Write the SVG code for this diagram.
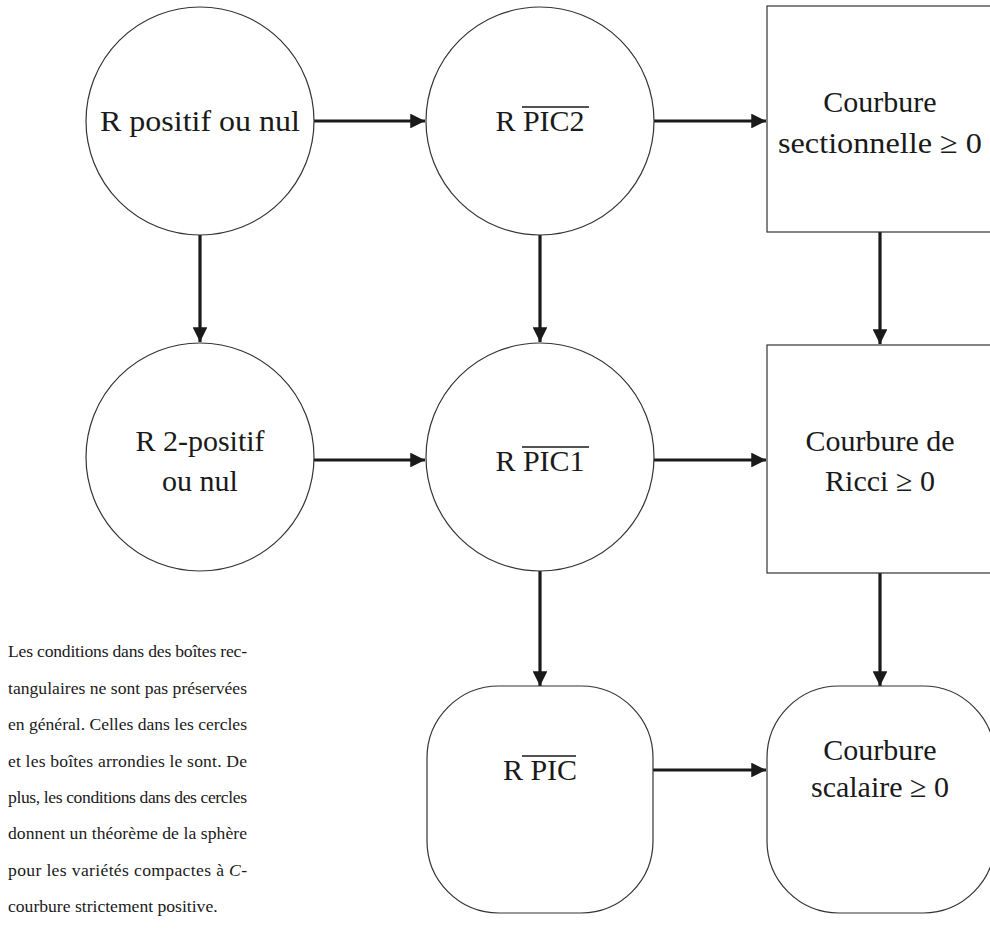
<svg xmlns="http://www.w3.org/2000/svg" width="990" height="940" viewBox="0 0 990 940">
<defs>
<marker id="ah" viewBox="0 0 10 10" refX="10" refY="5" markerWidth="5" markerHeight="4.6" markerUnits="strokeWidth" orient="auto">
<path d="M0,0 L10,5 L0,10 z" fill="#1a1a1a"/>
</marker>
<style>
.nd{fill:#fff;stroke:#333;stroke-width:1.2}
.lb{font-size:30px;fill:#1a1a1a;text-anchor:middle}
.ov{stroke:#1a1a1a;stroke-width:1.3}
.cn{stroke:#1a1a1a;stroke-width:3.2;fill:none;marker-end:url(#ah)}
.pg{font-size:17.6px;fill:#1a1a1a}
</style>
</defs>
<rect width="990" height="940" fill="#fff"/>
<g id="edges">
<line class="cn" x1="314" y1="121" x2="425" y2="121"/>
<line class="cn" x1="654" y1="121" x2="766" y2="121"/>
<line class="cn" x1="200" y1="235" x2="200" y2="342"/>
<line class="cn" x1="540" y1="235" x2="540" y2="342"/>
<line class="cn" x1="880" y1="232" x2="880" y2="344"/>
<line class="cn" x1="314" y1="460" x2="425" y2="460"/>
<line class="cn" x1="654" y1="460" x2="766" y2="460"/>
<line class="cn" x1="540" y1="571" x2="540" y2="686"/>
<line class="cn" x1="880" y1="573" x2="880" y2="686"/>
<line class="cn" x1="653" y1="770" x2="766" y2="770"/>
</g>
<g font-family="'Liberation Serif', 'DejaVu Serif', serif">
<g id="n1">
<circle class="nd" cx="200" cy="121" r="114"/>
<text class="lb" x="200" y="131" textLength="200" lengthAdjust="spacingAndGlyphs">R positif ou nul</text>
</g>
<g id="n2">
<circle class="nd" cx="540" cy="121" r="114"/>
<text class="lb" x="540" y="131">R PIC2</text>
<line class="ov" x1="522" y1="107" x2="589" y2="107"/>
</g>
<g id="n3">
<rect class="nd" x="767" y="6" width="228" height="226"/>
<text class="lb" x="880" y="112">Courbure</text>
<text class="lb" x="880" y="153" textLength="204" lengthAdjust="spacingAndGlyphs">sectionnelle ≥ 0</text>
</g>
<g id="n4">
<circle class="nd" cx="200" cy="457" r="114"/>
<text class="lb" x="200" y="451">R 2-positif</text>
<text class="lb" x="200" y="491">ou nul</text>
</g>
<g id="n5">
<circle class="nd" cx="540" cy="457" r="114"/>
<text class="lb" x="540" y="471">R PIC1</text>
<line class="ov" x1="522" y1="447" x2="589" y2="447"/>
</g>
<g id="n6">
<rect class="nd" x="767" y="345" width="228" height="228"/>
<text class="lb" x="880" y="451">Courbure de</text>
<text class="lb" x="880" y="491">Ricci ≥  0</text>
</g>
<g id="n7">
<rect class="nd" x="427" y="686" width="226" height="227" rx="72" ry="72"/>
<text class="lb" x="540" y="780">R PIC</text>
<line class="ov" x1="522" y1="756" x2="576" y2="756"/>
</g>
<g id="n8">
<rect class="nd" x="767" y="686" width="228" height="227" rx="72" ry="72"/>
<text class="lb" x="880" y="760">Courbure</text>
<text class="lb" x="880" y="797">scalaire ≥  0</text>
</g>
<g id="note">
<text class="pg" x="8" y="657" textLength="239" lengthAdjust="spacing">Les conditions dans des boîtes rec-</text>
<text class="pg" x="8" y="694" textLength="239" lengthAdjust="spacing">tangulaires ne sont pas préservées</text>
<text class="pg" x="8" y="730" textLength="239" lengthAdjust="spacing">en général. Celles dans les cercles</text>
<text class="pg" x="8" y="767" textLength="239" lengthAdjust="spacing">et les boîtes arrondies le sont. De</text>
<text class="pg" x="8" y="803" textLength="239" lengthAdjust="spacing">plus, les conditions dans des cercles</text>
<text class="pg" x="8" y="839" textLength="239" lengthAdjust="spacing">donnent un théorème de la sphère</text>
<text class="pg" x="8" y="876" textLength="239" lengthAdjust="spacing">pour les variétés compactes à <tspan font-style="italic">C</tspan>-</text>
<text class="pg" x="8" y="912">courbure strictement positive.</text>
</g>
</g>
</svg>
